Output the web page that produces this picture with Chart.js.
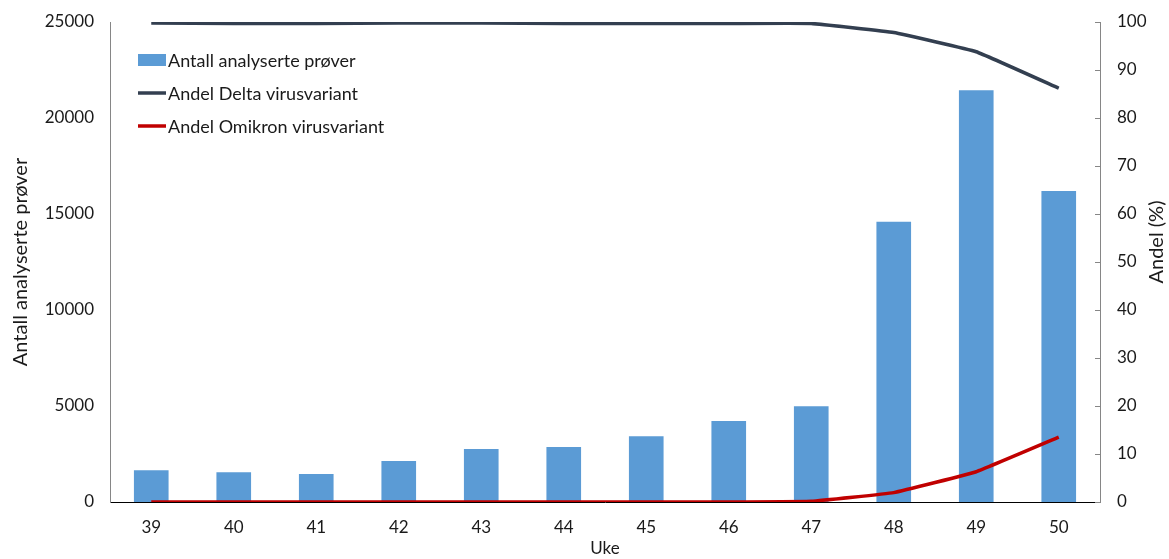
<!DOCTYPE html>
<html>
<head>
<meta charset="utf-8">
<script src="https://cdn.jsdelivr.net/npm/chart.js@4/dist/chart.umd.min.js"></script>
<style>
  html, body { margin: 0; padding: 0; background: #ffffff; }
  #wrap { width: 1169px; height: 559px; position: relative; }
</style>
</head>
<body>
<div id="wrap"><canvas id="c" width="1169" height="559"></canvas></div>
<script>
// Uke (week numbers)
const weeks = ['39', '40', '41', '42', '43', '44', '45', '46', '47', '48', '49', '50'];
// Antall analyserte prøver per uke
const samples = [1650, 1545, 1460, 2135, 2760, 2865, 3420, 4220, 4990, 14600, 21450, 16200];
// Andel Delta (%)
const deltaShare = [99.8, 99.7, 99.7, 99.8, 99.8, 99.7, 99.7, 99.7, 99.7, 97.8, 93.8, 86.2];
// Andel Omikron (%)
const omicronShare = [0, 0, 0, 0, 0, 0, 0, 0, 0.15, 1.95, 6.3, 13.5];
// Tick labels
const leftTicks = [0, 5000, 10000, 15000, 20000, 25000];
const rightTicks = [0, 10, 20, 30, 40, 50, 60, 70, 80, 90, 100];
const rightTitle = 'Andel (%)';

const FONT = 'Lato, "Liberation Sans", sans-serif';
const TEXT = '#1a1a1a';

// Legend drawn inside the plot area, top-left
const insideLegend = {
  id: 'insideLegend',
  afterDraw(chart) {
    const ctx = chart.ctx;
    const x0 = 138, y0 = 60, step = 33;
    ctx.save();
    ctx.font = '18px ' + FONT;
    ctx.textBaseline = 'middle';
    chart.data.datasets.forEach((ds, i) => {
      const y = y0 + i * step;
      if (ds.type === 'bar') {
        ctx.fillStyle = ds.backgroundColor;
        ctx.fillRect(x0, y - 6, 28, 12);
      } else {
        ctx.strokeStyle = ds.borderColor;
        ctx.lineWidth = 3.5;
        ctx.beginPath();
        ctx.moveTo(x0, y);
        ctx.lineTo(x0 + 28, y);
        ctx.stroke();
      }
      ctx.fillStyle = TEXT;
      ctx.fillText(ds.label, x0 + 30, y + 1);
    });
    ctx.restore();
  }
};

// Right axis: inward tick marks and a bottom-to-top title
const rightAxisExtras = {
  id: 'rightAxisExtras',
  afterDraw(chart) {
    const s = chart.scales.y2;
    const ctx = chart.ctx;
    ctx.save();
    ctx.strokeStyle = '#868686';
    ctx.lineWidth = 1;
    rightTicks.forEach(v => {
      const y = Math.round(s.getPixelForValue(v)) + 0.5;
      ctx.beginPath();
      ctx.moveTo(s.left - 5, y);
      ctx.lineTo(s.left, y);
      ctx.stroke();
    });
    ctx.translate(1157, (s.top + s.bottom) / 2 - 20);
    ctx.rotate(-Math.PI / 2);
    ctx.font = '20px ' + FONT;
    ctx.fillStyle = TEXT;
    ctx.textAlign = 'center';
    ctx.textBaseline = 'middle';
    ctx.fillText(rightTitle, 0, 0);
    ctx.restore();
  }
};

const plain = v => String(v);

new Chart(document.getElementById('c'), {
  data: {
    labels: weeks,
    datasets: [
      {
        type: 'bar',
        label: 'Antall analyserte prøver',
        data: samples,
        backgroundColor: '#5b9bd5',
        yAxisID: 'y',
        barPercentage: 0.42,
        categoryPercentage: 1.0,
        order: 3
      },
      {
        type: 'line',
        label: 'Andel Delta virusvariant',
        data: deltaShare,
        borderColor: '#333f50',
        borderWidth: 3.5,
        pointRadius: 0,
        tension: 0.08,
        yAxisID: 'y2',
        order: 1
      },
      {
        type: 'line',
        label: 'Andel Omikron virusvariant',
        data: omicronShare,
        borderColor: '#c00000',
        borderWidth: 3.5,
        pointRadius: 0,
        tension: 0.08,
        yAxisID: 'y2',
        order: 2
      }
    ]
  },
  options: {
    responsive: false,
    animation: false,
    layout: { padding: { top: 22, left: 0, right: 0, bottom: 0 } },
    plugins: {
      legend: { display: false },
      tooltip: { enabled: false }
    },
    scales: {
      x: {
        offset: true,
        grid: { display: false, drawTicks: false },
        border: { display: true, color: '#000000', width: 1 },
        ticks: { color: TEXT, font: { family: FONT, size: 17 }, padding: 15 },
        title: { display: true, text: 'Uke', color: TEXT, font: { family: FONT, size: 17 }, padding: { top: 0, bottom: 0 } },
        afterFit(s) { s.height = 57; }
      },
      y: {
        position: 'left',
        min: 0, max: 25000,
        afterBuildTicks(s) { s.ticks = leftTicks.map(v => ({ value: v })); },
        grid: { display: false, drawTicks: false },
        border: { display: true, color: '#868686', width: 1 },
        ticks: { color: TEXT, font: { family: FONT, size: 17 }, padding: 16, callback: plain },
        title: { display: true, text: 'Antall analyserte prøver', color: TEXT, font: { family: FONT, size: 20 }, padding: { top: 9, bottom: 0 } },
        afterFit(s) { s.width = 110; s.paddingTop = 0; s.paddingBottom = 0; }
      },
      y2: {
        position: 'right',
        min: 0, max: 100,
        afterBuildTicks(s) { s.ticks = rightTicks.map(v => ({ value: v })); },
        grid: { display: false, drawTicks: false },
        border: { display: true, color: '#868686', width: 1 },
        ticks: { color: TEXT, font: { family: FONT, size: 17 }, padding: 17, callback: plain },
        title: { display: false },
        afterFit(s) { s.width = 69; s.paddingTop = 0; s.paddingBottom = 0; }
      }
    }
  },
  plugins: [insideLegend, rightAxisExtras]
});
</script>
</body>
</html>
